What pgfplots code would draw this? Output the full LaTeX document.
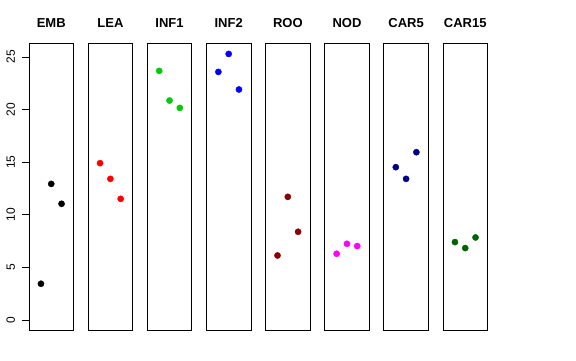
\documentclass[border=0pt]{standalone}
\usepackage{fontspec}
\setmainfont{Liberation Sans}
\usepackage{pgfplots}
\pgfplotsset{compat=1.18}
\definecolor{rgreen}{HTML}{00CD00}
\definecolor{rred}{HTML}{FF0000}
\definecolor{rblue}{HTML}{0000FF}
\definecolor{rmagenta}{HTML}{FF00FF}
\definecolor{rdarkred}{HTML}{8B0000}
\definecolor{rdarkblue}{HTML}{00008B}
\definecolor{rdarkgreen}{HTML}{006400}
\pgfplotsset{
  panel/.style={
    scale only axis, width=44.5pt, height=287.4pt,
    xmin=-0.16, xmax=4.16, ymin=-1.01, ymax=26.30,
    xtick=\empty, ytick=\empty,
    axis line style={black, line width=0.75pt},
    title style={font=\fontsize{13}{15}\selectfont, anchor=base, at={(0.5,1)}, yshift=9.3pt, inner sep=0pt},
    anchor=south west,
  },
  pt/.style={only marks, mark=*, mark size=3.1pt, mark options={draw=#1, fill=#1}},
}
\begin{document}
\fontsize{12}{14}\selectfont
\begin{tikzpicture}[x=1pt,y=1pt]
\path[use as bounding box] (0,0) rectangle (576,360);
\begin{axis}[panel, at={(29pt,29.3pt)}, title={\textbf{EMB}},
  ytick={0,5,10,15,20,25}, ytick pos=left, tick align=outside, major tick length=7.2pt,
  tick style={black, line width=0.75pt},
  /pgf/number format/assume math mode=true,
  yticklabel style={rotate=90, anchor=base, inner sep=0pt, font=\fontsize{12}{14}\selectfont},
  yticklabel shift=7pt]
\addplot[pt=black] coordinates {(1,3.45) (2,12.94) (3,11.05)};
\end{axis}
\begin{axis}[panel, at={(88.14pt,29.3pt)}, title={\textbf{LEA}}]
\addplot[pt=rred] coordinates {(1,14.91) (2,13.42) (3,11.52)};
\end{axis}
\begin{axis}[panel, at={(147.28pt,29.3pt)}, title={\textbf{INF1}}]
\addplot[pt=rgreen] coordinates {(1,23.68) (2,20.86) (3,20.16)};
\end{axis}
\begin{axis}[panel, at={(206.42pt,29.3pt)}, title={\textbf{INF2}}]
\addplot[pt=rblue] coordinates {(1,23.58) (2,25.29) (3,21.91)};
\end{axis}
\begin{axis}[panel, at={(265.56pt,29.3pt)}, title={\textbf{ROO}}]
\addplot[pt=rdarkred] coordinates {(1,6.14) (2,11.71) (3,8.39)};
\end{axis}
\begin{axis}[panel, at={(324.7pt,29.3pt)}, title={\textbf{NOD}}]
\addplot[pt=rmagenta] coordinates {(1,6.30) (2,7.25) (3,7.03)};
\end{axis}
\begin{axis}[panel, at={(383.84pt,29.3pt)}, title={\textbf{CAR5}}]
\addplot[pt=rdarkblue] coordinates {(1,14.53) (2,13.42) (3,15.95)};
\end{axis}
\begin{axis}[panel, at={(442.98pt,29.3pt)}, title={\textbf{CAR15}}]
\addplot[pt=rdarkgreen] coordinates {(1,7.41) (2,6.84) (3,7.85)};
\end{axis}
\end{tikzpicture}
\end{document}
